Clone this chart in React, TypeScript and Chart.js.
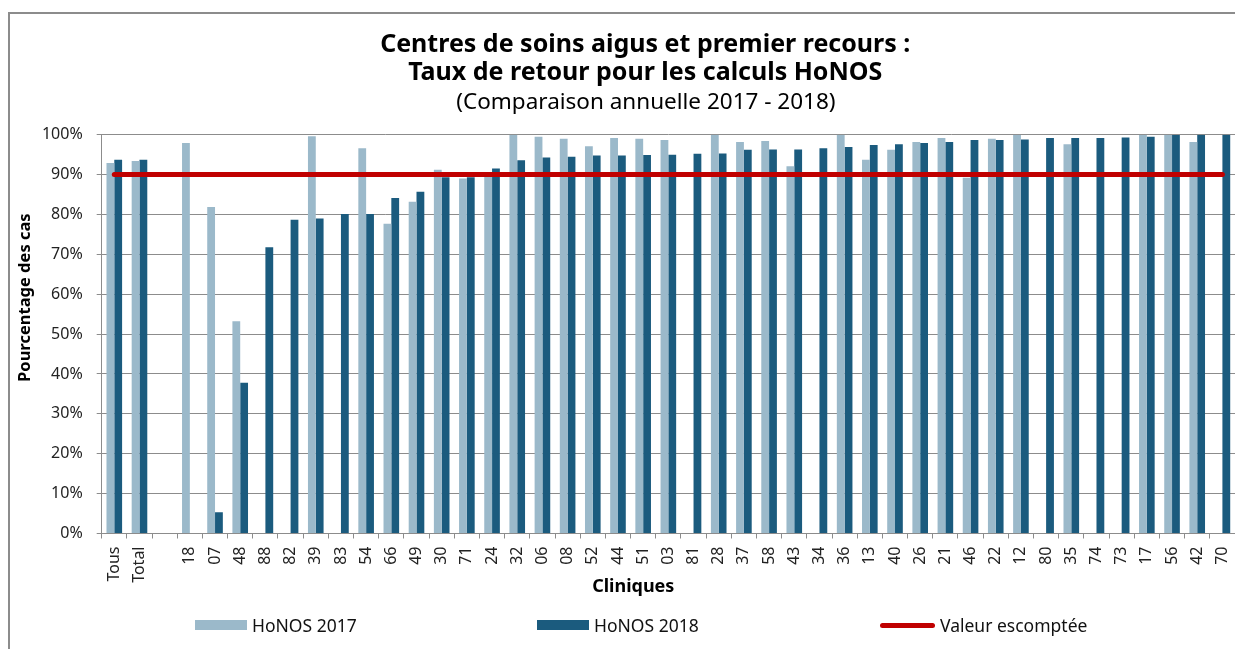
import React, { useEffect, useRef } from 'react';
import { Chart, registerables } from 'chart.js';

Chart.register(...registerables);

const categories = ['Tous', 'Total', '', '18', '07', '48', '88', '82', '39', '83', '54', '66', '49', '30', '71', '24', '32', '06', '08', '52', '44', '51', '03', '81', '28', '37', '58', '43', '34', '36', '13', '40', '26', '21', '46', '22', '12', '80', '35', '74', '73', '17', '56', '42', '70'];

const honos2017 = [92.9, 93.4, null, 97.9, 81.9, 53.2, null, null, 99.6, null, 96.6, 77.7, 83.2, 91.2, 89.0, 90.0, 100, 99.5, 99.0, 97.1, 99.2, 99.0, 98.7, null, 100, 98.2, 98.4, 92.1, null, 100, 93.7, 96.2, 98.2, 99.2, 89.2, 99.0, 100, null, 97.6, null, null, 100, 100, 98.2, null];

const honos2018 = [93.7, 93.7, null, null, 5.3, 37.8, 71.8, 78.7, 79.0, 80.1, 80.1, 84.1, 85.7, 89.3, 89.3, 91.5, 93.6, 94.3, 94.5, 94.8, 94.8, 94.9, 95.0, 95.2, 95.3, 96.2, 96.3, 96.3, 96.6, 96.9, 97.4, 97.6, 97.9, 98.2, 98.7, 98.7, 98.8, 99.2, 99.2, 99.2, 99.3, 99.5, 99.9, 100, 100];

const TARGET = 90;
const expected = categories.map(() => TARGET);

const seriesLabels = ['HoNOS 2017', 'HoNOS 2018', 'Valeur escomptée'];
const yTicks = [0, 10, 20, 30, 40, 50, 60, 70, 80, 90, 100];

const titleLines = ['Centres de soins aigus et premier recours :', 'Taux de retour pour les calculs HoNOS'];
const subtitleText = '(Comparaison annuelle 2017 - 2018)';
const yTitle = 'Pourcentage des cas';
const xTitle = 'Cliniques';

const LIGHT = '#9BB9CA';
const DARK = '#1B5B7E';
const RED = '#C00000';
const GRID = '#8c8c8c';
const FONT = '"Noto Sans", "DejaVu Sans", sans-serif';
const NB = '\u00A0';

export default function App() {
  const ref = useRef<HTMLCanvasElement>(null);

  useEffect(() => {
    if (!ref.current) return;
    const chart = new Chart(ref.current, {
      type: 'bar',
      data: {
        labels: categories,
        datasets: [
          {
            type: 'line',
            label: seriesLabels[2],
            data: expected,
            borderColor: RED,
            backgroundColor: RED,
            borderWidth: 5,
            borderCapStyle: 'round',
            pointRadius: 0,
            order: 0,
          } as any,
          {
            label: seriesLabels[0],
            data: honos2017,
            backgroundColor: LIGHT,
            barPercentage: 1,
            categoryPercentage: 0.62,
            order: 1,
          },
          {
            label: seriesLabels[1],
            data: honos2018,
            backgroundColor: DARK,
            barPercentage: 1,
            categoryPercentage: 0.62,
            order: 2,
          },
        ],
      },
      options: {
        responsive: false,
        animation: false,
        layout: { padding: { left: 0, right: 44, top: 0, bottom: 10.5 } },
        plugins: {
          legend: { display: false },
          tooltip: { enabled: false },
          title: {
            display: true,
            text: titleLines.map((t) => NB.repeat(7) + t),
            color: '#000',
            font: { family: FONT, size: 25, weight: 'bold', lineHeight: 28 / 25 },
            padding: { top: 17, bottom: 0 },
          },
          subtitle: {
            display: true,
            text: NB.repeat(8) + subtitleText,
            color: '#000',
            font: { family: FONT, size: 22.5, weight: 'normal', lineHeight: 1.2 },
            padding: { top: 2.5, bottom: 18.2 },
          },
        },
        scales: {
          x: {
            offset: true,
            grid: {
              display: true,
              offset: true,
              drawOnChartArea: false,
              drawTicks: true,
              tickLength: 5,
              color: GRID,
            },
            border: { display: true, color: GRID, width: 1 },
            ticks: {
              autoSkip: false,
              maxRotation: 90,
              minRotation: 90,
              padding: 8,
              color: '#222',
              font: { family: FONT, size: 16 },
            },
            title: {
              display: true,
              text: xTitle + NB.repeat(15),
              color: '#000',
              font: { family: FONT, size: 18, weight: 'bold', lineHeight: 1.2 },
              padding: { top: 0, bottom: 6 },
            },
            afterFit: (s: any) => {
              s.height = 70;
            },
          },
          y: {
            min: 0,
            max: 100,
            afterBuildTicks: (s: any) => {
              s.ticks = yTicks.map((v) => ({ value: v }));
            },
            ticks: {
              callback: (v: any) => v + '%',
              padding: 14,
              color: '#222',
              font: { family: FONT, size: 16 },
            },
            grid: { color: GRID, lineWidth: 1, tickLength: 5, drawTicks: true },
            border: { display: true, color: GRID, width: 1 },
            title: {
              display: true,
              text: NB.repeat(17) + yTitle,
              color: '#000',
              font: { family: FONT, size: 16.5, weight: 'bold', lineHeight: 1.2 },
              padding: { top: 5, bottom: 0 },
            },
            afterFit: (s: any) => {
              s.width = 91.7;
            },
          },
        },
      } as any,
    });
    return () => chart.destroy();
  }, []);

  const legendItems = [
    { label: seriesLabels[0], left: 185, kind: 'box', color: LIGHT },
    { label: seriesLabels[1], left: 527, kind: 'box', color: DARK },
    { label: seriesLabels[2], left: 870, kind: 'line', color: RED },
  ];

  return (
    <div
      style={{
        marginTop: 4,
        width: 1235,
        height: 637,
        boxSizing: 'border-box',
        borderTop: `2px solid ${GRID}`,
        borderLeft: `2px solid ${GRID}`,
        position: 'relative',
        overflow: 'hidden',
        background: '#fff',
      }}
    >
      <canvas ref={ref} width={1269} height={600} style={{ display: 'block' }} />
      {legendItems.map((it) => (
        <div
          key={it.label}
          style={{
            position: 'absolute',
            left: it.left,
            top: 599,
            height: 24,
            display: 'flex',
            alignItems: 'center',
            fontFamily: FONT,
            fontSize: 17.5,
            color: '#111',
            whiteSpace: 'nowrap',
          }}
        >
          <span
            style={{
              display: 'inline-block',
              width: it.kind === 'box' ? 52 : 55,
              height: it.kind === 'box' ? 10 : 5,
              borderRadius: it.kind === 'box' ? 0 : 3,
              background: it.color,
              marginRight: 5,
            }}
          />
          <span>{it.label}</span>
        </div>
      ))}
    </div>
  );
}
